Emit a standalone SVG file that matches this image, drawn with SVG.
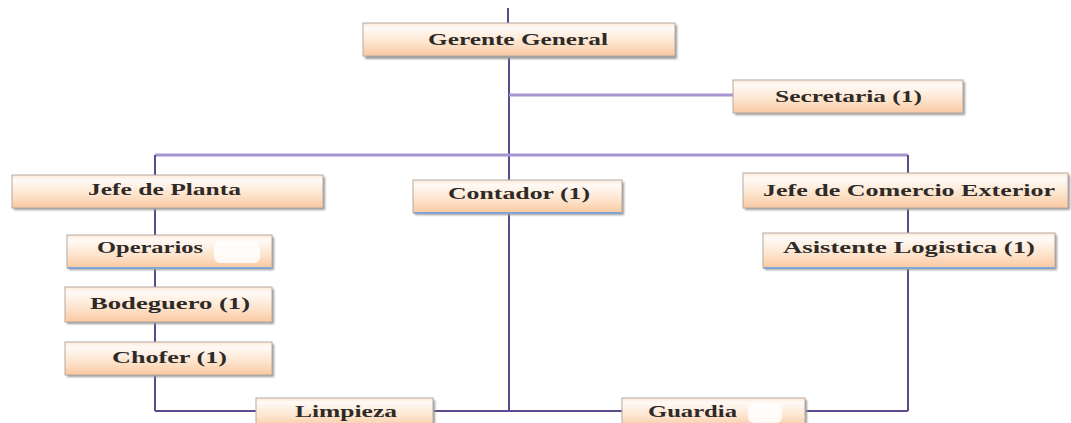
<svg xmlns="http://www.w3.org/2000/svg" width="1071" height="423" viewBox="0 0 1071 423">
  <defs>
    <linearGradient id="boxFill" x1="0" y1="0" x2="0" y2="1">
      <stop offset="0" stop-color="#fde9d8"/>
      <stop offset="0.15" stop-color="#fffaf6"/>
      <stop offset="0.6" stop-color="#fde4cd"/>
      <stop offset="1" stop-color="#f9c8a0"/>
    </linearGradient>
    <filter id="soft" x="-5%" y="-20%" width="110%" height="160%">
      <feGaussianBlur stdDeviation="1.2"/>
    </filter>
  </defs>
  <style>
    .shadow { fill: #9a9a9a; filter: url(#soft); }
    .box { fill: url(#boxFill); stroke: #b4aaa2; stroke-width: 1; }
    .base { stroke: #7fa6d6; stroke-width: 2; }
    .label { font-family: "Liberation Serif", "Times New Roman", serif; font-weight: bold; font-size: 16px; fill: #2e2a28; text-anchor: start; }
    .trunk { stroke: #5d4a8e; stroke-width: 2; fill: none; }
    .branch { stroke: #a594cf; stroke-width: 3; fill: none; }
    .patch { fill: #ffffff; }
  </style>
  <rect width="1071" height="423" fill="#ffffff"/>

  <g id="connectors">
    <line class="trunk" x1="508" y1="8" x2="508" y2="23"/>
    <line class="trunk" x1="509" y1="56" x2="509" y2="411"/>
    <line class="branch" x1="509" y1="95" x2="734" y2="95"/>
    <line class="branch" x1="155" y1="155" x2="908" y2="155"/>
    <line class="trunk" x1="155" y1="155" x2="155" y2="411"/>
    <line class="trunk" x1="908" y1="155" x2="908" y2="411"/>
    <line class="trunk" x1="155" y1="411" x2="908" y2="411"/>
  </g>

  <g id="gerente-general">
    <rect class="shadow" x="365" y="25" width="312" height="34"/>
    <rect class="box" x="363" y="23" width="312" height="33"/>
    <text class="label" x="428" y="45" textLength="180" lengthAdjust="spacingAndGlyphs">Gerente General</text>
  </g>

  <g id="secretaria">
    <rect class="shadow" x="735" y="82" width="230" height="33"/>
    <rect class="box" x="733" y="80" width="230" height="33"/>
    <text class="label" x="775" y="102" textLength="147" lengthAdjust="spacingAndGlyphs">Secretaria (1)</text>
  </g>

  <g id="jefe-de-planta">
    <rect class="shadow" x="14" y="177" width="311" height="33"/>
    <rect class="box" x="12" y="175" width="311" height="33"/>
    <text class="label" x="88" y="195" textLength="153" lengthAdjust="spacingAndGlyphs">Jefe de Planta</text>
  </g>

  <g id="operarios">
    <rect class="shadow" x="69" y="237" width="205" height="33"/>
    <rect class="box" x="67" y="235" width="205" height="33"/>
    <line class="base" x1="68" y1="268" x2="271" y2="268"/>
    <rect class="patch" x="214" y="241" width="46" height="22" rx="6" opacity="0.85"/>
    <text class="label" x="97" y="253" textLength="106" lengthAdjust="spacingAndGlyphs">Operarios</text>
  </g>

  <g id="contador">
    <rect class="shadow" x="415" y="182" width="209" height="33"/>
    <rect class="box" x="413" y="180" width="209" height="33"/>
    <line class="base" x1="414" y1="213" x2="621" y2="213"/>
    <text class="label" x="448" y="199" textLength="142" lengthAdjust="spacingAndGlyphs">Contador (1)</text>
  </g>

  <g id="jefe-de-comercio-exterior">
    <rect class="shadow" x="745" y="175" width="325" height="35"/>
    <rect class="box" x="743" y="173" width="325" height="35"/>
    <text class="label" x="763" y="196" textLength="292" lengthAdjust="spacingAndGlyphs">Jefe de Comercio Exterior</text>
  </g>

  <g id="asistente-logistica">
    <rect class="shadow" x="765" y="235" width="292" height="35"/>
    <rect class="box" x="763" y="233" width="292" height="35"/>
    <line class="base" x1="764" y1="268" x2="1054" y2="268"/>
    <text class="label" x="783" y="253" textLength="252" lengthAdjust="spacingAndGlyphs">Asistente Logistica (1)</text>
  </g>

  <g id="bodeguero">
    <rect class="shadow" x="67" y="289" width="207" height="35"/>
    <rect class="box" x="65" y="287" width="207" height="35"/>
    <text class="label" x="90" y="309" textLength="160" lengthAdjust="spacingAndGlyphs">Bodeguero (1)</text>
  </g>

  <g id="chofer">
    <rect class="shadow" x="67" y="344" width="207" height="33"/>
    <rect class="box" x="65" y="342" width="207" height="33"/>
    <text class="label" x="112" y="363" textLength="115" lengthAdjust="spacingAndGlyphs">Chofer (1)</text>
  </g>

  <g id="limpieza">
    <rect class="shadow" x="258" y="400" width="177" height="30"/>
    <rect class="box" x="256" y="398" width="177" height="30"/>
    <text class="label" x="295" y="417" textLength="102" lengthAdjust="spacingAndGlyphs">Limpieza</text>
  </g>

  <g id="guardia">
    <rect class="shadow" x="624" y="400" width="183" height="30"/>
    <rect class="box" x="622" y="398" width="183" height="30"/>
    <rect class="patch" x="748" y="403" width="34" height="20" rx="6" opacity="0.85"/>
    <text class="label" x="648" y="417" textLength="89" lengthAdjust="spacingAndGlyphs">Guardia</text>
  </g>
</svg>
